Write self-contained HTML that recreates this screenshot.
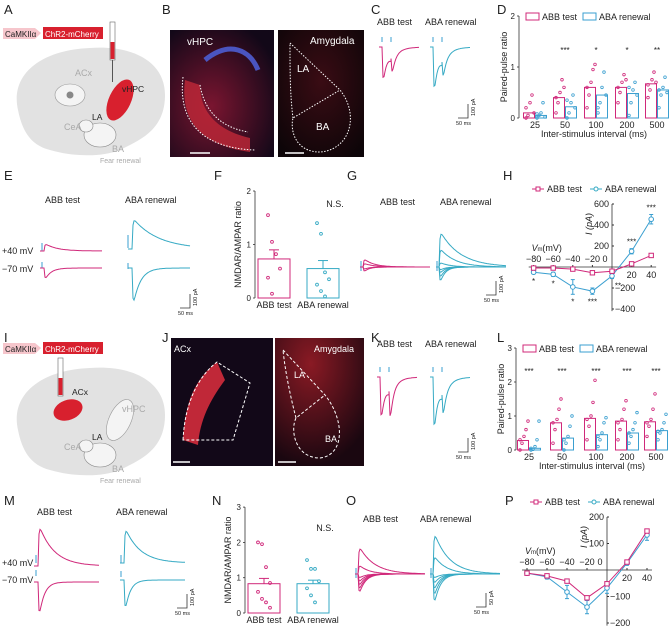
<!DOCTYPE html>
<html><head><meta charset="utf-8"><style>
body{margin:0;background:#fff}
svg{display:block;font-family:"Liberation Sans",sans-serif}
text{fill:#222}
</style></head><body>
<svg id="fig" width="669" height="626" viewBox="0 0 669 626" xmlns="http://www.w3.org/2000/svg">
<defs>
<radialGradient id="hpcg" cx="0.4" cy="0.6" r="0.7"><stop offset="0" stop-color="#7a1530"/><stop offset="1" stop-color="#120818"/></radialGradient>
<radialGradient id="amyg" cx="0.5" cy="0.4" r="0.7"><stop offset="0" stop-color="#3a0c14"/><stop offset="1" stop-color="#0d0508"/></radialGradient>
<radialGradient id="amyg2" cx="0.4" cy="0.2" r="0.8"><stop offset="0" stop-color="#8a1a24"/><stop offset="1" stop-color="#1a0710"/></radialGradient>
</defs>
<g id="static" font-size="9">
<g font-size="13">
<text x="4" y="14">A</text><text x="162" y="14">B</text><text x="371" y="14">C</text><text x="497" y="14">D</text>
<text x="4" y="180">E</text><text x="214" y="180">F</text><text x="347" y="180">G</text><text x="503" y="180">H</text>
<text x="4" y="342">I</text><text x="162" y="342">J</text><text x="371" y="342">K</text><text x="497" y="342">L</text>
<text x="4" y="505">M</text><text x="212" y="505">N</text><text x="346" y="505">O</text><text x="505" y="505">P</text>
</g>
<g>
<path d="M3,28 H35 L41,33 L35,39 H3Z" fill="#f6c6cc"/><text x="5" y="37" font-size="8">CaMKIIα</text>
<rect x="43" y="27" width="60" height="12" fill="#d8202e"/><text x="45" y="37" font-size="8" style="fill:#fff">ChR2-mCherry</text>
<path d="M18,110 C10,75 40,50 90,48 C130,45 165,60 165,95 C165,130 140,140 120,150 C100,158 70,156 50,150 C30,145 22,130 18,110Z" fill="#e2e2e2"/>
<ellipse cx="70" cy="95" rx="15" ry="11" fill="#f4f4f4" stroke="#999" stroke-width="0.6"/><circle cx="70" cy="95" r="3.5" fill="#888"/>
<text x="75" y="76" style="fill:#aaa">ACx</text>
<ellipse cx="120" cy="100" rx="11" ry="22" transform="rotate(25 120 100)" fill="#d8202e"/>
<text x="122" y="92" font-size="8.5">vHPC</text>
<rect x="110" y="22" width="5" height="38" fill="#fff" stroke="#666" stroke-width="0.6"/><rect x="110.5" y="42" width="4" height="17" fill="#d8202e"/><line x1="112.5" y1="60" x2="112.5" y2="82" stroke="#555"/>
<ellipse cx="100" cy="135" rx="16" ry="12" fill="#f4f4f4" stroke="#888" stroke-width="0.6"/><ellipse cx="86" cy="126" rx="7" ry="6" fill="#f4f4f4" stroke="#888" stroke-width="0.6"/>
<text x="92" y="120" font-size="8.5">LA</text><text x="64" y="130" style="fill:#aaa">CeA</text><text x="112" y="152" style="fill:#aaa">BA</text>
<text x="100" y="163" font-size="7" style="fill:#aaa">Fear renewal</text>
</g>
<g>
<rect x="170" y="30" width="104" height="127" fill="url(#hpcg)"/>
<path d="M185,80 C180,120 200,145 250,152 L250,138 C215,130 200,110 200,85Z" fill="#c02838" opacity="0.8"/>
<path d="M205,60 C230,40 250,50 258,70" stroke="#4a55c0" stroke-width="5" fill="none"/>
<path d="M183,77 C178,120 200,148 255,150 M200,85 C205,115 225,128 248,132" stroke="#fff" stroke-dasharray="1.5 1.5" fill="none"/>
<text x="187" y="45" font-size="10" style="fill:#fff">vHPC</text><line x1="190" y1="153" x2="210" y2="153" stroke="#fff" stroke-width="1.5"/>
<rect x="278" y="30" width="86" height="127" fill="url(#amyg)"/>
<path d="M290,43 L340,90 C360,115 350,150 320,152 C295,152 290,130 293,118 L340,90 M293,118 C290,95 290,70 290,43" stroke="#fff" stroke-dasharray="1.5 1.5" fill="none"/>
<text x="310" y="44" font-size="10" style="fill:#fff">Amygdala</text><text x="297" y="72" font-size="10" style="fill:#fff">LA</text><text x="316" y="130" font-size="10" style="fill:#fff">BA</text>
<line x1="285" y1="153" x2="304" y2="153" stroke="#fff" stroke-width="1.5"/>
</g>
<g>
<path d="M3,343 H35 L41,348 L35,354 H3Z" fill="#f6c6cc"/><text x="5" y="352" font-size="8">CaMKIIα</text>
<rect x="43" y="342" width="60" height="12" fill="#d8202e"/><text x="45" y="352" font-size="8" style="fill:#fff">ChR2-mCherry</text>
<path d="M18,430 C10,395 40,370 90,368 C130,365 165,380 165,415 C165,450 140,460 120,470 C100,478 70,476 50,470 C30,465 22,450 18,430Z" fill="#e2e2e2"/>
<ellipse cx="68" cy="410" rx="15" ry="10" transform="rotate(-20 68 410)" fill="#d8202e"/><text x="72" y="395" font-size="8.5">ACx</text>
<rect x="58" y="358" width="5" height="38" fill="#fff" stroke="#666" stroke-width="0.6"/><rect x="58.5" y="378" width="4" height="17" fill="#d8202e"/>
<ellipse cx="120" cy="420" rx="11" ry="22" transform="rotate(25 120 420)" fill="#f4f4f4" stroke="#999" stroke-width="0.6"/><text x="122" y="412" style="fill:#aaa">vHPC</text>
<ellipse cx="100" cy="455" rx="16" ry="12" fill="#f4f4f4" stroke="#888" stroke-width="0.6"/><ellipse cx="86" cy="446" rx="7" ry="6" fill="#f4f4f4" stroke="#888" stroke-width="0.6"/>
<text x="92" y="440" font-size="8.5">LA</text><text x="64" y="450" style="fill:#aaa">CeA</text><text x="112" y="472" style="fill:#aaa">BA</text>
<text x="100" y="483" font-size="7" style="fill:#aaa">Fear renewal</text>
</g>
<g>
<rect x="171" y="338" width="102" height="128" fill="#120818"/>
<path d="M183,440 C185,395 200,375 217,362 L225,380 C210,400 200,420 198,445Z" fill="#c02838"/>
<path d="M183,440 C185,400 200,375 217,362 L250,383 L233,440Z" stroke="#fff" stroke-dasharray="3 2" fill="none"/>
<text x="174" y="352" font-size="9" style="fill:#fff">ACx</text><line x1="173" y1="462" x2="190" y2="462" stroke="#fff" stroke-width="1.5"/>
<rect x="275" y="338" width="89" height="128" fill="url(#amyg2)"/>
<path d="M283,350 L325,395 C345,420 345,455 320,458 C295,458 290,430 296,418 L325,395 M296,418 C290,395 285,370 283,350" stroke="#fff" stroke-dasharray="3 2" fill="none"/>
<text x="314" y="352" font-size="9" style="fill:#fff">Amygdala</text><text x="294" y="378" font-size="9" style="fill:#fff">LA</text><text x="325" y="442" font-size="9" style="fill:#fff">BA</text>
<line x1="278" y1="462" x2="296" y2="462" stroke="#fff" stroke-width="1.5"/>
</g>
</g>
<g id="dyn"></g>
</svg>
<script>
// ---------- data ----------
const intervals=["25","50","100","200","500"];
const ppD_abb=[0.10,0.40,0.60,0.60,0.67];
const ppD_aba=[0.05,0.22,0.45,0.48,0.55];
const ppD_sig=["","***","*","*","**"];
const ppD_dotsAbb=[[0,0.05,0.3,0.45,0.1,0.2],[0.1,0.3,0.5,0.75,0.6,0.4],[0.2,0.45,0.7,0.95,1.05,0.6],[0.3,0.5,0.7,0.85,0.75,0.6],[0.4,0.55,0.75,0.9,0.7,0.65]];
const ppD_dotsAba=[[0,0.05,0.1,0.3,0.02,0.08],[0,0.1,0.3,0.45,0.2,0.35],[0.1,0.3,0.6,0.9,0.45,0.2],[0.05,0.3,0.55,0.7,0.45,0.6],[0.2,0.45,0.6,0.8,0.5,0.55]];
const ppL_abb=[0.28,0.80,0.93,0.85,0.83];
const ppL_aba=[0.05,0.35,0.45,0.50,0.57];
const ppL_sig=["***","***","***","***","***"];
const ppL_dotsAbb=[[0,0.2,0.4,0.6,0.85,0.3],[0.2,0.6,0.9,1.2,1.5,0.8],[0.3,0.7,1.0,1.4,2.05,0.9],[0.3,0.6,0.9,1.2,1.45,0.8],[0.4,0.7,0.9,1.2,1.65,0.8]];
const ppL_dotsAba=[[0,0.02,0.1,0.3,0.85,0.05],[0,0.2,0.4,0.7,1.0,0.3],[0.1,0.3,0.5,0.8,0.95,0.4],[0.2,0.4,0.6,0.8,1.1,0.5],[0.3,0.5,0.6,0.8,1.05,0.55]];
const nmF=[0.73,0.55];
const nmF_err=[0.17,0.15];
const nmF_dotsAbb=[1.55,1.05,0.82,0.55,0.38,0.08];
const nmF_dotsAba=[1.4,1.2,0.48,0.35,0.25,0.13,0.03];
const nmN=[0.83,0.83];
const nmN_err=[0.15,0.1];
const nmN_dotsAbb=[2.0,1.95,1.3,0.85,0.6,0.4,0.3,0.15];
const nmN_dotsAba=[1.5,1.25,1.25,0.9,0.7,0.5,0.3];
const ivV=[-80,-60,-40,-20,0,20,40];
const ivH_abb=[-10,-10,-20,-55,-40,30,110];
const ivH_aba=[-50,-70,-190,-230,-85,150,455];
const ivH_abaErr=[15,20,70,30,25,25,45];
const ivH_sig=["*","*","*","***","**","***","***"];
const ivP_abb=[-12,-22,-42,-105,-52,30,147];
const ivP_aba=[-12,-26,-83,-140,-68,26,132];
const ivP_abaErr=[5,8,25,25,20,8,20];

const PINK="#d0287a",BLUE="#3a9fd0",TEAL="#36aac4";
const NS="http://www.w3.org/2000/svg";
const dyn=document.getElementById('dyn');
function mk(tag,attrs,parent){const e=document.createElementNS(NS,tag);for(const k in attrs)e.setAttribute(k,attrs[k]);(parent||dyn).appendChild(e);return e;}
function txt(x,y,s,attrs,parent){const t=mk('text',Object.assign({x:x,y:y,'font-size':9},attrs||{}),parent);t.textContent=s;return t;}

function ppChart(name,x0,y0,py,ymax,centers,abb,aba,dA,dB,sig,ticks,sigY){
  const g=mk('g',{});
  
  
  const ys=v=>y0-v*py;
  mk('line',{x1:x0,y1:ys(ymax),x2:x0,y2:y0,stroke:'#333','stroke-width':0.8},g);
  ticks.forEach(t=>{mk('line',{x1:x0-2,y1:ys(t),x2:x0,y2:ys(t),stroke:'#333','stroke-width':0.8},g);txt(x0-4,ys(t)+3,String(t),{'text-anchor':'end','font-size':8},g);});
  const yl=txt(0,0,'Paired-pulse ratio',{'text-anchor':'middle',transform:`translate(${x0-12},${(ys(ymax)+y0)/2}) rotate(-90)`},g);
  
  const bw=11;
  centers.forEach((c,i)=>{
    const b1=mk('rect',{x:c-bw-0.5,y:ys(abb[i]),width:bw,height:abb[i]*py,fill:'#fff',stroke:PINK,'stroke-width':1},g);
    
    
    const b2=mk('rect',{x:c+0.5,y:ys(aba[i]),width:bw,height:aba[i]*py,fill:'#fff',stroke:BLUE,'stroke-width':1},g);
    
    
    dA[i].forEach((v,j)=>mk('circle',{cx:c-bw+2+(j%5)*2,cy:ys(v),r:1.3,fill:'none',stroke:PINK,'stroke-width':0.8},g));
    dB[i].forEach((v,j)=>mk('circle',{cx:c+2+(j%5)*2,cy:ys(v),r:1.3,fill:'none',stroke:BLUE,'stroke-width':0.8},g));
    txt(c,y0+10,intervals[i],{'text-anchor':'middle'},g);
    if(sig[i])txt(c,sigY,sig[i],{'text-anchor':'middle','font-size':8},g);
  });
  const xt=txt((x0+centers[4]+12)/2,y0+19,'Inter-stimulus interval (ms)',{'text-anchor':'middle'},g);
  
  const lg=mk('g',{},g);
  
  
  const ly=ys(ymax);
  mk('rect',{x:x0+7,y:ly-3,width:13,height:7,fill:'#fff',stroke:PINK},lg);txt(x0+23,ly+4,'ABB test',{},lg);
  mk('rect',{x:x0+64,y:ly-3,width:13,height:7,fill:'#fff',stroke:BLUE},lg);txt(x0+80,ly+4,'ABA renewal',{},lg);
}
ppChart('paired-pulse-chart-vhpc',519,118,51,2,[535,565,596,627,657],ppD_abb,ppD_aba,ppD_dotsAbb,ppD_dotsAba,ppD_sig,[0,1,2],53);
ppChart('paired-pulse-chart-acx',516,450,34,3,[529,562,596,627,656],ppL_abb,ppL_aba,ppL_dotsAbb,ppL_dotsAba,ppL_sig,[0,1,2,3],374);

function nmChart(name,x0,y0,py,ymax,vals,errs,dA,dB){
  const g=mk('g',{});
  
  
  const ys=v=>y0-v*py;
  mk('line',{x1:x0,y1:ys(ymax),x2:x0,y2:y0,stroke:'#333','stroke-width':0.8},g);
  for(let t=0;t<=ymax;t++){mk('line',{x1:x0-2,y1:ys(t),x2:x0,y2:ys(t),stroke:'#333','stroke-width':0.8},g);txt(x0-4,ys(t)+3,String(t),{'text-anchor':'end','font-size':8},g);}
  txt(0,0,'NMDAR/AMPAR ratio',{'text-anchor':'middle',transform:`translate(${x0-14},${(ys(ymax)+y0)/2}) rotate(-90)`},g);
  const cols=[PINK,TEAL],labs=['ABB test','ABA renewal'],xs=[x0+3,x0+52],dots=[dA,dB];
  vals.forEach((v,i)=>{
    const b=mk('rect',{x:xs[i],y:ys(v),width:32,height:v*py,fill:'#fff',stroke:cols[i],'stroke-width':1},g);
    
    
    const c=xs[i]+16;
    mk('line',{x1:c,y1:ys(v),x2:c,y2:ys(v+errs[i]),stroke:cols[i]},g);
    mk('line',{x1:c-5,y1:ys(v+errs[i]),x2:c+5,y2:ys(v+errs[i]),stroke:cols[i]},g);
    dots[i].forEach((d,j)=>mk('circle',{cx:c-6+(j%4)*4,cy:ys(d),r:1.4,fill:'none',stroke:cols[i],'stroke-width':0.9},g));
    txt(c,y0+10,labs[i],{'text-anchor':'middle'},g);
  });
  txt(xs[1]+28,ys(ymax)+(ymax==2?16:24),'N.S.',{'text-anchor':'middle'},g);
}
nmChart('nmda-ampa-chart-vhpc',255,298,53.5,2,nmF,nmF_err,nmF_dotsAbb,nmF_dotsAba);
nmChart('nmda-ampa-chart-acx',245,613,35.3,3,nmN,nmN_err,nmN_dotsAbb,nmN_dotsAba);

function ivChart(name,ox,oy,pxv,pyA,yTicks,abb,aba,abaErr,sig,lgx,lgy,ymin,ymax){
  const g=mk('g',{});
  
  
  const X=v=>ox+v*pxv,Y=a=>oy-a*pyA;
  mk('line',{x1:X(-85),y1:oy,x2:X(45),y2:oy,stroke:'#333','stroke-width':0.8},g);
  mk('line',{x1:ox,y1:Y(ymax),x2:ox,y2:Y(ymin),stroke:'#333','stroke-width':0.8},g);
  ivV.forEach(v=>{if(v!==0)mk('line',{x1:X(v),y1:oy,x2:X(v),y2:oy-2,stroke:'#333'},g);
    txt(v<0?X(v):(v===0?X(v)-7:X(v)),v<=0?oy-5:oy+11,v<0?'\u2212'+(-v):String(v),{'text-anchor':'middle'},g);});
  yTicks.forEach(t=>{if(t===0)return;mk('line',{x1:ox,y1:Y(t),x2:ox+2,y2:Y(t),stroke:'#333'},g);
    txt(t>0?ox-3:ox+3,Y(t)+3,t<0?'\u2212'+(-t):String(t),{'text-anchor':t>0?'end':'start'},g);});
  txt(0,0,'I (pA)',{'font-style':'italic','text-anchor':'middle',transform:`translate(${ox-20},${Y(yTicks[yTicks.length-1])+20}) rotate(-90)`},g);
  txt(X(-82),oy-16,'V',{'font-style':'italic'},g);txt(X(-76),oy-16,'m',{'font-size':6},g);txt(X(-71),oy-16,'(mV)',{},g);
  [[aba,BLUE,'circle',abaErr],[abb,PINK,'rect',null]].forEach(([d,col,shape,err])=>{
    const p=mk('polyline',{points:ivV.map((v,i)=>X(v)+','+Y(d[i])).join(' '),fill:'none',stroke:col,'stroke-width':1},g);
    
    ivV.forEach((v,i)=>{
      if(err){mk('line',{x1:X(v),y1:Y(d[i]-err[i]),x2:X(v),y2:Y(d[i]+err[i]),stroke:col},g);
        mk('line',{x1:X(v)-2,y1:Y(d[i]+err[i]),x2:X(v)+2,y2:Y(d[i]+err[i]),stroke:col},g);
        mk('line',{x1:X(v)-2,y1:Y(d[i]-err[i]),x2:X(v)+2,y2:Y(d[i]-err[i]),stroke:col},g);}
      if(shape==='circle')mk('circle',{cx:X(v),cy:Y(d[i]),r:2.3,fill:'#fff',stroke:col},g);
      else mk('rect',{x:X(v)-2.2,y:Y(d[i])-2.2,width:4.4,height:4.4,fill:'#fff',stroke:col},g);
    });
  });
  if(sig)sig.forEach((s,i)=>{const above=ivV[i]>=20;txt(X(ivV[i])+(ivV[i]===0?6:0),above?Y(aba[i]+abaErr[i])-4:Y(aba[i]-abaErr[i])+10,s,{'text-anchor':'middle','font-size':8},g);});
  const lg=mk('g',{},g);
  
  
  mk('line',{x1:lgx,y1:lgy,x2:lgx+12,y2:lgy,stroke:PINK},lg);mk('rect',{x:lgx+4,y:lgy-2,width:4,height:4,fill:'#fff',stroke:PINK},lg);
  txt(lgx+15,lgy+3,'ABB test',{},lg);
  mk('line',{x1:lgx+58,y1:lgy,x2:lgx+70,y2:lgy,stroke:TEAL},lg);mk('circle',{cx:lgx+64,cy:lgy,r:2,fill:'#fff',stroke:TEAL},lg);
  txt(lgx+73,lgy+3,'ABA renewal',{},lg);
}
ivChart('iv-chart-vhpc',612,267,0.98,0.105,[-400,-200,0,200,400,600],ivH_abb,ivH_aba,ivH_abaErr,ivH_sig,532,189,-420,600);
ivChart('iv-chart-acx',607,570,1.0,0.265,[-200,-100,0,100,200],ivP_abb,ivP_aba,ivP_abaErr,null,530,502,-210,200);

// ---------- traces (illustrative) ----------
function epsc(x0,y0,w,amp,tau,col,g,t0){
  t0=t0||4;let d=`M${x0},${y0} L${x0+t0},${y0}`;
  for(let t=0;t<=w-t0;t+=1){d+=` L${x0+t0+t},${(y0+amp*(1-Math.exp(-t*1.5))*Math.exp(-t/tau)).toFixed(1)}`;}
  mk('path',{d:d,fill:'none',stroke:col,'stroke-width':1},g);
}
function tgroup(name){const g=mk('g',{});return g;}
function paired(x0,y0,a1,a2,col){
  const g=tgroup('paired-pulse-trace');
  mk('path',{d:`M${x0+3},${y0-10}v5 M${x0+12},${y0-10}v5`,stroke:BLUE},g);
  let d=`M${x0},${y0} L${x0+3},${y0}`;
  for(let t=0;t<=9;t++)d+=` L${x0+3+t},${(y0+a1*(1-Math.exp(-t*1.2))*Math.exp(-t/3)+a1*0.2*(t/9)).toFixed(1)}`;
  const base=y0+a1*0.2;
  for(let t=0;t<=28;t++)d+=` L${x0+12+t},${(y0+(base-y0)*Math.exp(-t/8)+a2*(1-Math.exp(-t*1.2))*Math.exp(-t/3)).toFixed(1)}`;
  mk('path',{d:d,fill:'none',stroke:col,'stroke-width':1},g);
}
txt(377,25,'ABB test');txt(425,25,'ABA renewal');
paired(379,47,58,28,PINK);paired(430,47,75,30,TEAL);
txt(377,347,'ABB test');txt(425,347,'ABA renewal');
paired(377,377,72,52,PINK);paired(430,377,90,40,TEAL);
function scale(x,y,lbl){const g=tgroup('scale-bar');mk('path',{d:`M${x},${y} h10 v-14`,fill:'none',stroke:'#333','stroke-width':0.8},g);txt(x-2,y+7,'50 ms',{'font-size':5.5},g);txt(0,0,lbl,{'font-size':5.5,transform:`translate(${x+17},${y-2}) rotate(-90)`},g);}
scale(458,118,'100 pA');scale(458,452,'100 pA');
txt(45,203,'ABB test');txt(125,203,'ABA renewal');
txt(2,254,'+40 mV');txt(2,272,'\u221270 mV');
{const g=tgroup('nmda-traces-vhpc');
mk('path',{d:'M42,243v8 M42,262v6 M128,235v13 M128,263v6',stroke:BLUE},g);
epsc(40,251,62,-8,12,PINK,g);epsc(40,268,62,14,6,PINK,g);
epsc(128,249,62,-32,25,TEAL,g);epsc(128,268,62,45,7,TEAL,g);}
scale(180,308,'100 pA');
txt(37,515,'ABB test');txt(116,515,'ABA renewal');
txt(2,566,'+40 mV');txt(2,583,'\u221270 mV');
{const g=tgroup('nmda-traces-acx');
mk('path',{d:'M36,555v8 M36,570v6 M121,555v8 M121,571v6',stroke:BLUE},g);
epsc(34,566,65,-44,15,PINK,g);epsc(34,582,65,45,5,PINK,g);
epsc(120,563,65,-38,15,TEAL,g);epsc(120,580,65,40,5,TEAL,g);}
scale(177,608,'100 pA');
function fan(x0,y0,amps,taus,col,name){const g=tgroup(name);mk('path',{d:`M${x0+1},${y0-6}v10`,stroke:BLUE},g);amps.forEach((a,i)=>epsc(x0,y0,70,a,taus[i],col,g,3));}
const fanG1=[-9,-4,3,6],fanG2=[-38,-20,-5,4,8,14,20],fanO1=[-30,-10,5,10,15,20,25],fanO2=[-45,-20,5,12,20,28,38];
txt(380,205,'ABB test');txt(440,205,'ABA renewal');
fan(360,267,fanG1,[10,10,5,5],PINK,'iv-traces-abb-vhpc');
fan(436,267,fanG2,[20,15,10,5,5,5,5],TEAL,'iv-traces-aba-vhpc');
txt(363,522,'ABB test');txt(420,522,'ABA renewal');
fan(355,574,fanO1,[15,10,6,6,6,6,6],PINK,'iv-traces-abb-acx');
fan(430,574,fanO2,[15,12,6,6,6,6,6],TEAL,'iv-traces-aba-acx');
scale(486,295,'100 pA');scale(476,607,'50 pA');
</script>
</body></html>
